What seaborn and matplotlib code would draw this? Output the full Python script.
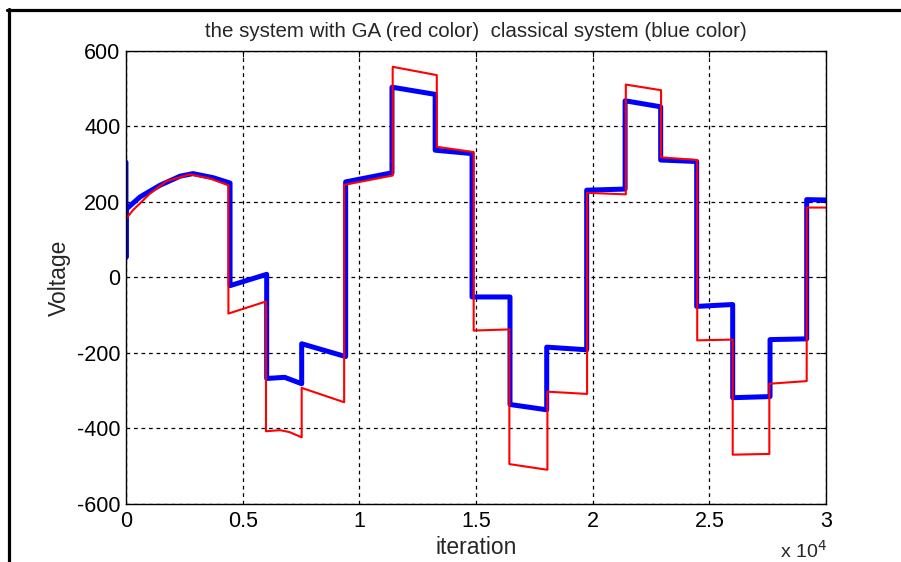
import numpy as np
import pandas as pd

import matplotlib
matplotlib.use("Agg")
import matplotlib.pyplot as plt
from matplotlib.lines import Line2D
from matplotlib.ticker import FuncFormatter, MultipleLocator
import seaborn as sns

# classical system (blue)
blue_x = [0, 0, 0, 600, 1457, 2314, 2870, 3743, 4460,
          4460, 6030, 6030, 6800, 7530, 7530, 9414, 9414, 11400,
          11400, 13250, 13250, 14830, 14830, 16457, 16457, 18030,
          18030, 19743, 19743, 21390, 21390, 22914, 22914, 24457,
          24457, 26000, 26000, 27600, 27600, 29171, 29171, 30000]
blue_y = [305, 53, 180, 213, 244, 268, 275, 264, 250,
          -22, 8, -268, -265, -282, -176, -210, 253, 277,
          504, 485, 337, 328, -52, -52, -337, -351,
          -185, -192, 231, 234, 468, 452, 311, 307,
          -77, -72, -319, -316, -165, -163, 206, 205]

# system with GA (red)
red_x = [0, 0, 300, 1029, 1743, 2743, 3600, 4390,
         4390, 6000, 6000, 6600, 7000, 7530, 7530, 9350, 9350, 11430,
         11430, 13320, 13320, 14900, 14900, 16430, 16430, 18060,
         18060, 19760, 19760, 21420, 21420, 22930, 22930, 24480,
         24480, 26000, 26000, 27570, 27570, 29171, 29171, 30000]
red_y = [300, 155, 178, 222, 255, 273, 262, 244,
         -96, -64, -408, -405, -410, -424, -293, -331, 245, 270,
         558, 536, 346, 332, -141, -138, -495, -510,
         -303, -309, 224, 220, 511, 496, 318, 311,
         -167, -165, -470, -468, -282, -275, 185, 185]

title = "the system with GA (red color)  classical system (blue color)"

sns.set_style("white")
plt.rcParams['font.family'] = ['Liberation Sans', 'DejaVu Sans']
plt.rcParams['axes.unicode_minus'] = False

blue = pd.DataFrame({"iteration": blue_x, "Voltage": blue_y})
red = pd.DataFrame({"iteration": red_x, "Voltage": red_y})

fig = plt.figure(figsize=(9.01, 5.62), dpi=100)
ax = fig.add_axes([0.1398, 0.1037, 0.777, 0.8056])

sns.lineplot(data=blue, x="iteration", y="Voltage", sort=False, estimator=None,
             color="#0000ff", lw=3.6, ax=ax)
sns.lineplot(data=red, x="iteration", y="Voltage", sort=False, estimator=None,
             color="#ff0000", lw=1.5, ax=ax)

ax.set_xlim(0, 30000)
ax.set_ylim(-600, 600)
ax.xaxis.set_major_locator(MultipleLocator(5000))
ax.yaxis.set_major_locator(MultipleLocator(200))
ax.xaxis.set_major_formatter(FuncFormatter(lambda v, p: "%g" % (v / 1e4)))
ax.grid(True, color="black", linestyle=(0, (3, 3)), linewidth=0.9)
ax.tick_params(direction="in", length=4, top=True, right=True,
               labelsize=15.5, colors="black", pad=5)
ax.tick_params(axis="y", pad=4)
for s in ax.spines.values():
    s.set_color("black")
    s.set_linewidth(1.0)

ax.set_title(title, fontsize=14.8, pad=10)
ax.set_xlabel("iteration", fontsize=16.5, labelpad=3)
ax.set_ylabel("Voltage", fontsize=16.5, labelpad=4)
fig.text(0.866, 0.0, "x 10$^{4}$", fontsize=14, va="bottom", ha="left")

# outer frame (left and top edges)
fig.add_artist(Line2D([0.0097, 0.0097], [0.0, 0.984], color="black", lw=2.3,
                      transform=fig.transFigure))
fig.add_artist(Line2D([0.008, 1.0], [0.983, 0.983], color="black", lw=2.3,
                      transform=fig.transFigure))

plt.savefig("out.png", dpi=100)
